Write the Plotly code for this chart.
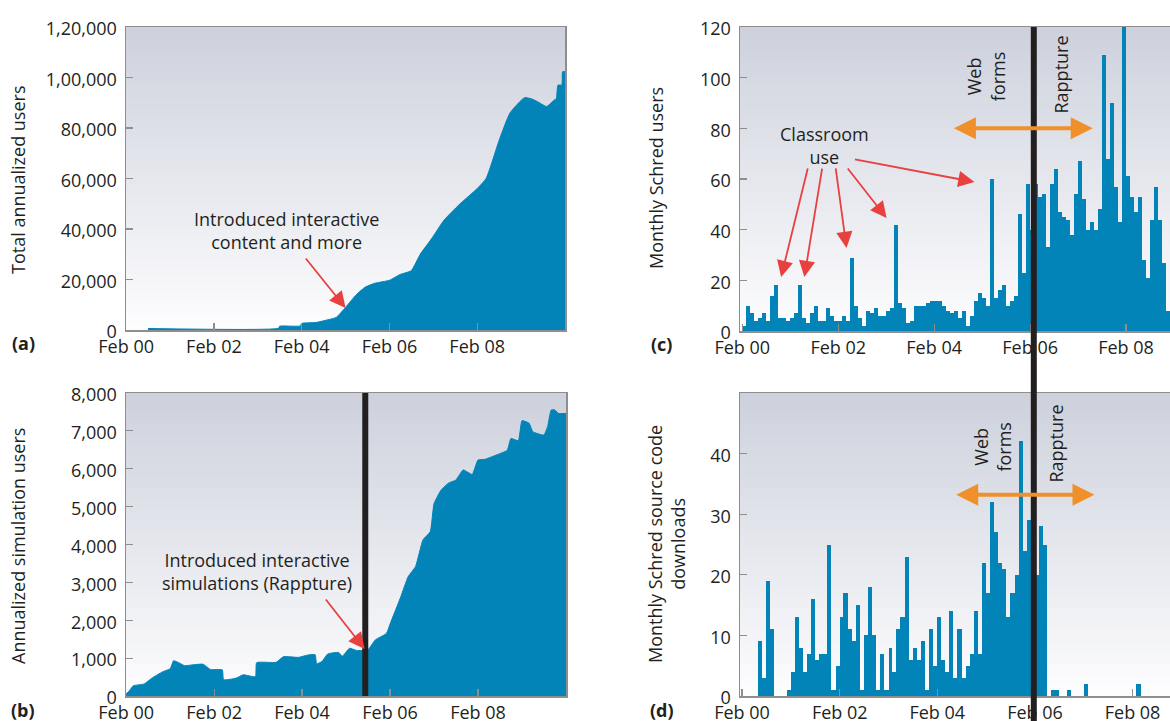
import plotly.graph_objects as go
import pandas as pd

W, H = 1170, 721

# ---------------- data ----------------
# (a) Total annualized users
a_dates = ["2000-08-01", "2003-07-25", "2003-08-01", "2004-01-20", "2004-02-01", "2004-06-01",
           "2004-09-01", "2004-11-15", "2005-02-01", "2005-05-01", "2005-07-15", "2005-10-01",
           "2006-02-01", "2006-05-01", "2006-08-01", "2006-10-15", "2007-01-15", "2007-05-01",
           "2007-09-01", "2008-02-01", "2008-04-15", "2008-08-01", "2008-11-01", "2009-03-01",
           "2009-05-01", "2009-06-15", "2009-09-01", "2009-11-01", "2009-11-20", "2009-12-05",
           "2010-01-05", "2010-01-12", "2010-02-01"]
a_users = [600, 700, 1500, 1600, 2600, 3000,
           4000, 5000, 9000, 14000, 17000, 18500,
           19700, 22000, 23500, 30000, 36000, 43500,
           49500, 56000, 60000, 75000, 86000, 92000,
           91500, 90500, 88500, 91000, 91500, 97000,
           97000, 102300, 102300]

# (b) Annualized simulation users
b_dates = ["2000-02-01", "2000-03-01", "2000-04-01", "2000-07-01", "2000-09-01", "2000-12-01",
           "2001-02-01", "2001-03-01", "2001-04-01", "2001-06-01", "2001-08-01", "2001-11-01",
           "2002-01-01", "2002-04-10", "2002-04-20", "2002-08-01", "2002-10-01", "2003-01-10",
           "2003-01-20", "2003-07-01", "2003-09-01", "2004-01-01", "2004-04-01", "2004-05-20",
           "2004-06-01", "2004-07-15", "2004-09-01", "2004-12-01", "2005-01-01", "2005-03-01",
           "2005-05-01", "2005-08-01", "2005-10-01", "2006-01-01", "2006-02-01", "2006-05-01",
           "2006-07-01", "2006-09-01", "2006-11-01", "2007-01-01", "2007-02-01", "2007-04-01",
           "2007-06-01", "2007-08-01", "2007-10-01", "2007-12-15", "2008-02-01", "2008-04-01",
           "2008-07-01", "2008-10-01", "2008-11-01", "2009-01-01", "2009-02-01", "2009-04-01",
           "2009-05-01", "2009-08-01", "2009-09-01", "2009-10-01", "2009-11-01", "2009-12-01",
           "2010-02-01"]
b_users = [50, 150, 270, 320, 470, 640,
           720, 930, 900, 800, 820, 840,
           700, 690, 430, 470, 560, 510,
           880, 890, 1040, 1020, 1090, 1090,
           850, 910, 1110, 1150, 1050, 1260,
           1200, 1220, 1480, 1650, 1900, 2620,
           3150, 3420, 4120, 4340, 5080, 5440,
           5620, 5700, 5970, 5850, 6230, 6250,
           6360, 6490, 6800, 6740, 7270, 7200,
           6980, 6890, 7110, 7550, 7550, 7460,
           7460]

# (c) Monthly Schred users (one value per month, starting Feb 2000)
c_first_month = "2000-02"
c_users = [2, 10, 7, 4, 5, 7, 4, 14, 18, 5, 5, 4, 5, 7, 18, 5, 3, 7, 10, 4, 4, 9, 6, 4, 4, 6, 4, 29,
           10, 5, 2, 8, 7, 9, 6, 6, 8, 9, 42,
           11, 9, 3, 4, 10, 10, 10, 11, 12, 12, 12, 10, 8, 7, 8, 5, 8, 2, 6, 12,
           15, 13, 10, 60, 13, 16, 18, 10, 12, 14, 46, 23, 58, 40,
           58,
           53, 54, 33, 58, 64, 47, 45, 44, 38, 54, 67, 52, 40, 43, 40, 48, 109, 68, 90, 57,
           43, 120, 61, 53, 47, 53, 28, 21, 44, 57, 44, 27, 8]

# (d) Monthly Schred source code downloads (one value per month, starting Jun 2000)
d_first_month = "2000-06"
d_downloads = [9, 3, 19, 11, 0, 0, 0, 1, 4, 13,
               8, 4, 7, 16, 6, 7, 7, 25, 1, 5,
               13, 17, 11, 9, 15, 1, 10, 18, 10, 1,
               7, 1, 8, 4, 11, 13, 23, 6, 8, 6,
               9, 1, 11, 5, 13, 6, 4, 14, 3, 11,
               3, 5, 7, 14, 7, 22, 17, 32, 27, 22,
               21, 13, 17, 20, 42, 24, 29, 22, 20, 28,
               25, 0, 1, 1, 0, 0, 1, 0, 0, 0,
               2, 0, 0, 0, 0, 0, 0, 0, 0, 0,
               0, 0, 0, 2]

tick_dates = ["2000-02-01", "2002-02-01", "2004-02-01", "2006-02-01", "2008-02-01"]
tick_text = ["Feb 00", "Feb 02", "Feb 04", "Feb 06", "Feb 08"]
a_yticks = [0, 20000, 40000, 60000, 80000, 100000, 120000]
a_yticktext = ["0", "20,000", "40,000", "60,000", "80,000", "1,00,000", "1,20,000"]
b_yticks = [0, 1000, 2000, 3000, 4000, 5000, 6000, 7000, 8000]
c_yticks = [0, 20, 40, 60, 80, 100, 120]
d_yticks = [0, 10, 20, 30, 40]

# ---------------- styles ----------------
BLUE = "#0284b9"
RED = "#e8403f"
ORANGE = "#f0902a"
BLACK = "#231f20"
AXIS_GRAY = "#8e8e8e"
FONT = "Open Sans"
FS = 18


def monthly(first, n):
    periods = pd.period_range(first, periods=n, freq="M")
    centers = [p.start_time + (p.end_time - p.start_time) / 2 for p in periods]
    widths = [p.days_in_month * 86400000 * 0.999 for p in periods]
    return centers, widths


c_x, c_w = monthly(c_first_month, len(c_users))
d_x, d_w = monthly(d_first_month, len(d_downloads))

fig = go.Figure()
fig.add_trace(go.Scatter(x=a_dates, y=a_users, mode="lines", fill="tozeroy",
                         line=dict(color=BLUE, width=1, shape="spline", smoothing=0.5),
                         fillcolor=BLUE, xaxis="x", yaxis="y", showlegend=False,
                         hoverinfo="skip"))
fig.add_trace(go.Scatter(x=b_dates, y=b_users, mode="lines", fill="tozeroy",
                         line=dict(color=BLUE, width=1, shape="spline", smoothing=0.4),
                         fillcolor=BLUE, xaxis="x2", yaxis="y2", showlegend=False,
                         hoverinfo="skip"))
fig.add_trace(go.Bar(x=c_x, y=c_users, width=c_w, marker=dict(color=BLUE, line=dict(width=0)),
                     xaxis="x3", yaxis="y3", showlegend=False))
fig.add_trace(go.Bar(x=d_x, y=d_downloads, width=d_w, marker=dict(color=BLUE, line=dict(width=0)),
                     xaxis="x4", yaxis="y4", showlegend=False))


def px_x(p):
    return p / W


def px_y(p):
    return 1 - p / H


tickfont = dict(family=FONT, size=FS, color=BLACK)


def xax(domain, anchor, rng):
    return dict(domain=domain, anchor=anchor, type="date", range=rng, automargin=False,
                tickmode="array", tickvals=tick_dates, ticktext=tick_text,
                ticks="inside", ticklen=7, tickwidth=1.2, tickcolor=AXIS_GRAY,
                showline=True, linecolor=AXIS_GRAY, linewidth=1.5, mirror=True,
                showgrid=False, zeroline=False, tickfont=tickfont, fixedrange=True)


def yax(domain, anchor, rng, tickvals, ticktext=None, mirror=True):
    d = dict(domain=domain, anchor=anchor, range=rng, tickmode="array", tickvals=tickvals,
             automargin=False,
             ticks="inside", ticklen=7, tickwidth=1.2, tickcolor=AXIS_GRAY,
             showline=True, linecolor=AXIS_GRAY, linewidth=1.5, mirror=mirror,
             showgrid=False, zeroline=False, tickfont=tickfont, ticklabelstandoff=4,
             ticklabelshift=2, fixedrange=True)
    if ticktext is not None:
        d["ticktext"] = ticktext
    else:
        d["tickformat"] = ",d"
    return d


left_dom_a = [px_x(126), px_x(565)]
left_dom_b = [px_x(126), px_x(566)]
right_dom = [px_x(740), 1.0]
top_dom_l = [px_y(330), px_y(27)]
top_dom_r = [px_y(331), px_y(27)]
bot_dom = [px_y(696), px_y(393)]

fig.update_layout(
    template="none",
    width=W, height=H,
    margin=dict(l=0, r=0, t=0, b=0, pad=0, autoexpand=False),
    paper_bgcolor="white", plot_bgcolor="white",
    bargap=0, showlegend=False,
    font=dict(family=FONT, color=BLACK),
    xaxis=xax(left_dom_a, "y", ["2000-01-31", "2010-02-01"]),
    yaxis=yax(top_dom_l, "x", [0, 120000], a_yticks, a_yticktext),
    xaxis2=xax(left_dom_b, "y2", ["2000-01-31", "2010-02-01"]),
    yaxis2=yax(bot_dom, "x2", [0, 8000], b_yticks),
    xaxis3=xax(right_dom, "y3", ["2000-01-15", "2009-01-01"]),
    yaxis3=yax(top_dom_r, "x3", [0, 120], c_yticks, [str(v) for v in c_yticks], mirror=False),
    xaxis4=xax(right_dom, "y4", ["2000-01-17", "2008-11-07"]),
    yaxis4=yax(bot_dom, "x4", [0, 50], d_yticks, [str(v) for v in d_yticks], mirror=False),
)

# ---------------- background gradients ----------------
shapes = []
TOP = (205, 209, 220)
BOT = (253, 253, 254)
N = 48
for xs, ys in [("x", "y"), ("x2", "y2"), ("x3", "y3"), ("x4", "y4")]:
    for i in range(N):
        t = (i + 0.5) / N  # 0 bottom -> 1 top
        col = tuple(round(BOT[k] + (TOP[k] - BOT[k]) * t) for k in range(3))
        shapes.append(dict(type="rect", xref=f"{xs} domain", yref=f"{ys} domain",
                           x0=0, x1=1, y0=i / N, y1=min(1, (i + 1) / N + 0.002),
                           fillcolor="rgb(%d,%d,%d)" % col, line=dict(width=0),
                           layer="below"))

# vertical black markers
shapes.append(dict(type="line", xref="x2", yref="y2 domain", x0="2005-07-10", x1="2005-07-10",
                   y0=0, y1=1, line=dict(color=BLACK, width=6), layer="above"))
shapes.append(dict(type="line", xref="x4", yref="paper", x0="2006-01-23", x1="2006-01-23",
                   y0=-0.02, y1=px_y(27), line=dict(color=BLACK, width=6), layer="above"))
fig.update_layout(shapes=shapes)

# ---------------- annotations ----------------
ann = []
tfont = dict(family=FONT, size=FS, color=BLACK)


def paper_text(x, y, text, angle=0, size=FS):
    ann.append(dict(xref="paper", yref="paper", x=px_x(x), y=px_y(y), text=text,
                    showarrow=False, textangle=angle, xanchor="center", yanchor="middle",
                    font=dict(family=FONT, size=size, color=BLACK)))


# axis titles
paper_text(18, 180, "Total annualized users", angle=-90)
paper_text(18, 546, "Annualized simulation users", angle=-90)
paper_text(656, 178, "Monthly Schred users", angle=-90)
paper_text(666, 544, "Monthly Schred source code<br>downloads", angle=-90)
# panel labels
paper_text(23, 343, "<b>(a)</b>")
paper_text(23, 710, "<b>(b)</b>")
paper_text(661, 344, "<b>(c)</b>")
paper_text(662, 710, "<b>(d)</b>")

# text in the panels
ann.append(dict(xref="x", yref="y", x="2003-10-02", y=39600,
                text="Introduced interactive<br>content and more", showarrow=False,
                xanchor="center", yanchor="middle", font=tfont))
ann.append(dict(xref="x2", yref="y2", x="2003-01-25", y=3300,
                text="Introduced interactive<br>simulations (Rappture)", showarrow=False,
                xanchor="center", yanchor="middle", font=tfont))
ann.append(dict(xref="x3", yref="y3", x="2001-10-22", y=73.4,
                text="Classroom<br>use", showarrow=False,
                xanchor="center", yanchor="middle", font=tfont))
ann.append(dict(xref="x3", yref="y3", x="2005-03-04", y=100.3, text="Web<br>forms",
                textangle=-90, showarrow=False, xanchor="center", yanchor="middle", font=tfont))
ann.append(dict(xref="x3", yref="y3", x="2006-09-27", y=101.4, text="Rappture",
                textangle=-90, showarrow=False, xanchor="center", yanchor="middle", font=tfont))
ann.append(dict(xref="x4", yref="y4", x="2005-03-21", y=41.1, text="Web<br>forms",
                textangle=-90, showarrow=False, xanchor="center", yanchor="middle", font=tfont))
ann.append(dict(xref="x4", yref="y4", x="2006-07-10", y=41.7, text="Rappture",
                textangle=-90, showarrow=False, xanchor="center", yanchor="middle", font=tfont))


def red_arrow(xref, yref, x, y, ax, ay):
    ann.append(dict(xref=xref, yref=yref, x=x, y=y, ax=ax, ay=ay, text="",
                    showarrow=True, arrowhead=2, arrowsize=1.8, arrowwidth=1.8,
                    arrowcolor=RED, standoff=0, startstandoff=0))


red_arrow("x", "y", "2005-02-01", 8700, -41, -51)
red_arrow("x2", "y2", "2005-07-05", 1240, -40, -51)
red_arrow("x3", "y3", "2000-11-23", 21.3, 27, -110)
red_arrow("x3", "y3", "2001-05-19", 21.3, 18, -110)
red_arrow("x3", "y3", "2002-04-05", 32.8, -11, -81)
red_arrow("x3", "y3", "2003-02-04", 44.6, -40, -51)
red_arrow("x3", "y3", "2004-12-04", 58.8, -121, -23)


def orange_arrow(xref, yref, x_left, x_right, y):
    ann.append(dict(xref=xref, yref=yref, x=x_right, y=y, axref=xref, ayref=yref,
                    ax=x_left, ay=y, text="", showarrow=True, arrowside="end+start",
                    arrowhead=2, startarrowhead=2, arrowsize=1.1, startarrowsize=1.1,
                    arrowwidth=4, arrowcolor=ORANGE, standoff=0, startstandoff=0))


orange_arrow("x3", "y3", "2004-06-19", "2007-05-24", 80)
orange_arrow("x4", "y4", "2004-06-10", "2007-04-22", 33.2)

fig.update_layout(annotations=ann)

fig.write_html("out.html",
               config={"displayModeBar": False, "staticPlot": True},
               post_script="document.body.style.margin='0px';"
                           "document.body.style.overflow='hidden';")
